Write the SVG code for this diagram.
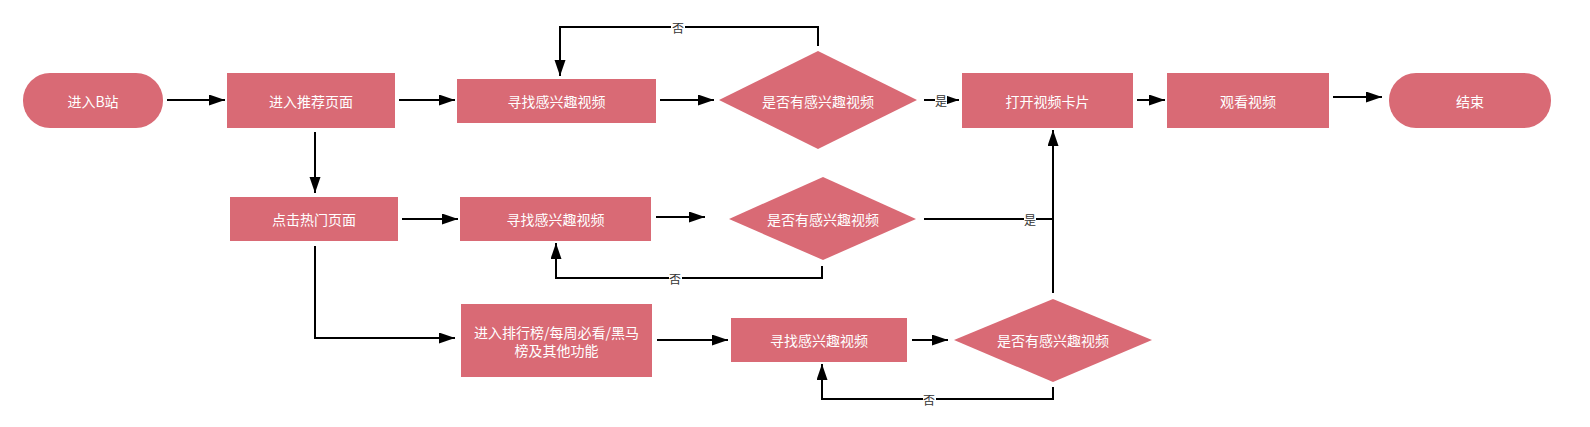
<svg xmlns="http://www.w3.org/2000/svg" width="1590" height="427" viewBox="0 0 1590 427">
<defs>
<marker id="arrow" markerUnits="userSpaceOnUse" markerWidth="16" markerHeight="12" refX="16" refY="5.5" orient="auto">
<path d="M0,0 L16,5.5 L0,11 z" fill="#000"/>
</marker>
<style>
.node{fill:#d96a75}
.t{fill:#fff;font-family:"Noto Sans CJK SC","Microsoft YaHei",sans-serif;font-size:14px;text-anchor:middle;dominant-baseline:central}
.c{fill:none;stroke:#000;stroke-width:2}
.a{marker-end:url(#arrow)}
.lbg{fill:#fff}
.lbl{fill:#333;font-family:"Noto Sans CJK SC",sans-serif;font-size:12px;text-anchor:middle;dominant-baseline:central}
</style>
</defs>
<rect width="1590" height="427" fill="#fff"/>
<g id="connectors">
<path class="c a" d="M167,100 L225,100"/>
<path class="c a" d="M399,100 L455,100"/>
<path class="c a" d="M660,100 L714,100"/>
<path class="c a" d="M924,100 L959,100"/>
<path class="c a" d="M1137,100 L1165,100"/>
<path class="c a" d="M1333,97 L1382,97"/>
<path class="c a" d="M315,132 L315,193"/>
<path class="c a" d="M402,219 L458,219"/>
<path class="c a" d="M656,217 L705,217"/>
<path class="c" d="M924,219 L1053,219"/>
<path class="c a" d="M1053,293 L1053,130"/>
<path class="c a" d="M822,266 L822,278 L556,278 L556,243"/>
<path class="c a" d="M315,246 L315,338 L455,338"/>
<path class="c a" d="M657,340 L728,340"/>
<path class="c a" d="M912,340 L948,340"/>
<path class="c a" d="M1053,387 L1053,399 L822,399 L822,364"/>
<path class="c a" d="M818,46 L818,27 L560,27 L560,76"/>
<rect class="lbg" x="671" y="20" width="14" height="14"/>
<text class="lbl" x="678" y="27">否</text>
<rect class="lbg" x="935" y="93" width="12" height="14"/>
<text class="lbl" x="941" y="100">是</text>
<rect class="lbg" x="1024" y="212" width="12" height="14"/>
<text class="lbl" x="1030" y="219">是</text>
<rect class="lbg" x="669" y="271" width="13" height="14"/>
<text class="lbl" x="675" y="278">否</text>
<rect class="lbg" x="923" y="392" width="13" height="14"/>
<text class="lbl" x="929" y="399">否</text>
</g>
<g id="start">
<rect class="node" x="23" y="73" width="140" height="55" rx="27" ry="27"/>
<text class="t" x="93" y="100.5">进入B站</text>
</g>
<g id="recommend">
<rect class="node" x="227" y="73" width="168" height="55"/>
<text class="t" x="311" y="100.5">进入推荐页面</text>
</g>
<g id="find1">
<rect class="node" x="457" y="79" width="199" height="44"/>
<text class="t" x="556.5" y="101">寻找感兴趣视频</text>
</g>
<g id="decide1">
<polygon class="node" points="818,51 917,100 818,149 719,100"/>
<text class="t" x="818" y="100.5">是否有感兴趣视频</text>
</g>
<g id="open">
<rect class="node" x="962" y="73" width="171" height="55"/>
<text class="t" x="1047.5" y="100.5">打开视频卡片</text>
</g>
<g id="watch">
<rect class="node" x="1167" y="73" width="162" height="55"/>
<text class="t" x="1248" y="100.5">观看视频</text>
</g>
<g id="end">
<rect class="node" x="1389" y="73" width="162" height="55" rx="27" ry="27"/>
<text class="t" x="1470" y="100.5">结束</text>
</g>
<g id="hot">
<rect class="node" x="230" y="197" width="168" height="44"/>
<text class="t" x="314" y="219">点击热门页面</text>
</g>
<g id="find2">
<rect class="node" x="460" y="197" width="191" height="44"/>
<text class="t" x="555.5" y="219">寻找感兴趣视频</text>
</g>
<g id="decide2">
<polygon class="node" points="823,177 916,219 823,260 729,219"/>
<text class="t" x="823" y="219">是否有感兴趣视频</text>
</g>
<g id="rank">
<rect class="node" x="461" y="304" width="191" height="73"/>
<text class="t" x="556.5" y="332">进入排行榜/每周必看/黑马</text>
<text class="t" x="556.5" y="350">榜及其他功能</text>
</g>
<g id="find3">
<rect class="node" x="731" y="318" width="176" height="44"/>
<text class="t" x="819" y="340">寻找感兴趣视频</text>
</g>
<g id="decide3">
<polygon class="node" points="1053,299 1152,340 1053,382 954,340"/>
<text class="t" x="1053" y="340">是否有感兴趣视频</text>
</g>
</svg>
